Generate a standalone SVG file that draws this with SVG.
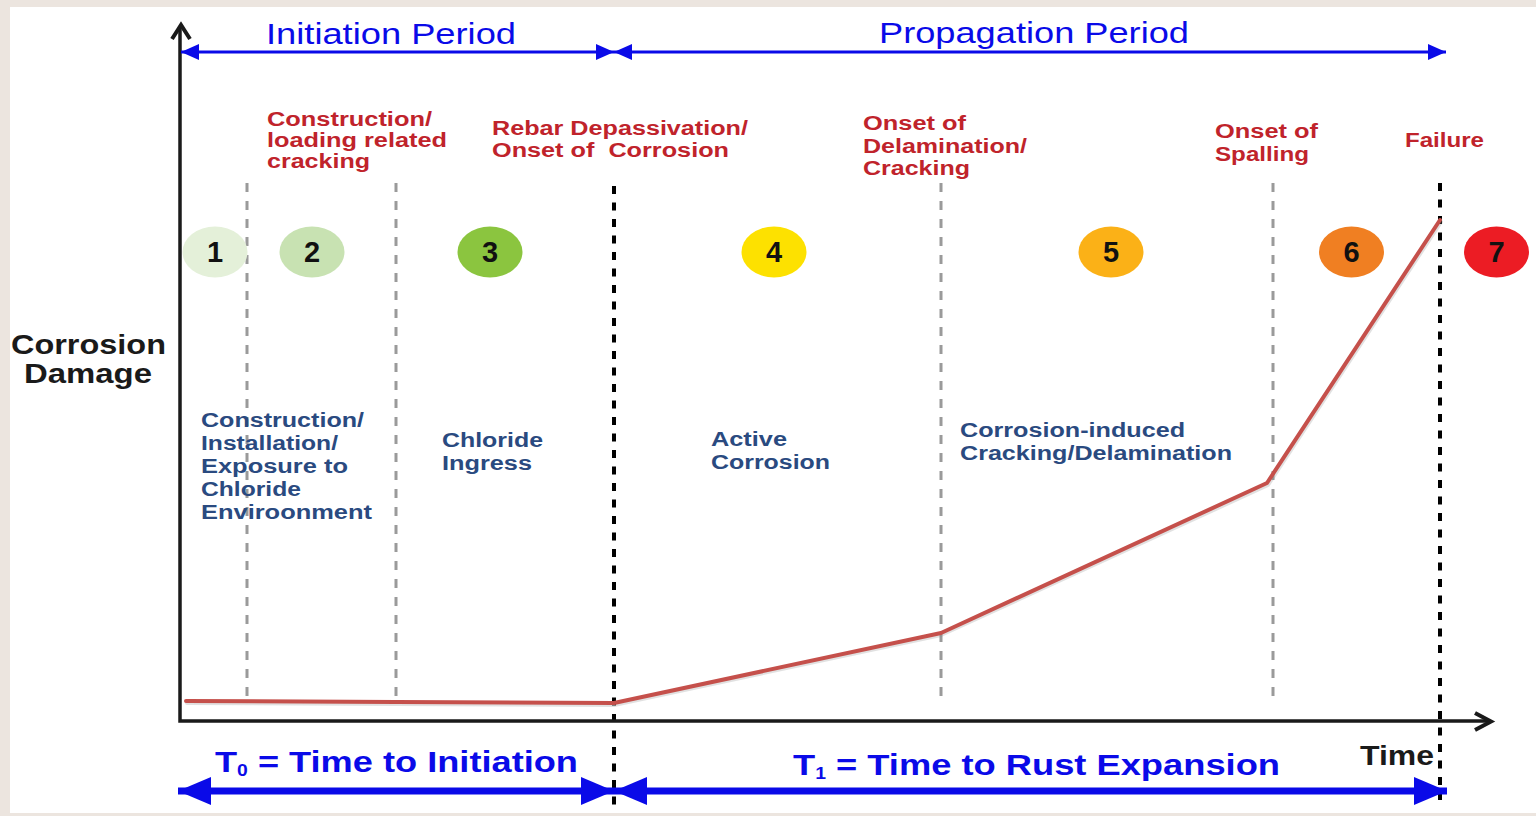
<svg xmlns="http://www.w3.org/2000/svg" width="1536" height="816" viewBox="0 0 1536 816">
  <style>
    .b { font-family: "Liberation Sans", Arial, sans-serif; font-weight: bold; }
    .r { font-family: "Liberation Sans", Arial, sans-serif; font-weight: normal; }
    .period { fill: #0a0ae8; font-size: 29px; }
    .event { fill: #c0232b; font-size: 20px; }
    .phase { fill: #2a4a80; font-size: 20px; }
    .axislbl { fill: #1a1a1a; font-size: 27px; }
    .num { fill: #111; font-size: 29px; text-anchor: middle; }
    .time { fill: #0a0ae8; font-size: 30px; }
    .gray { stroke: #9a9a9a; stroke-width: 3; stroke-dasharray: 9 9; fill: none; }
    .blk { stroke: #000; stroke-width: 4; stroke-dasharray: 8 8.5; fill: none; }
  </style>
  <defs>
    <marker id="tri" viewBox="0 0 18 16" refX="18" refY="8" markerWidth="18" markerHeight="16" markerUnits="userSpaceOnUse" orient="auto-start-reverse">
      <path d="M0,0 L18,8 L0,16 Z" fill="#0a0ae8"/>
    </marker>
    <marker id="bigtri" viewBox="0 0 33 28" refX="33" refY="14" markerWidth="33" markerHeight="28" markerUnits="userSpaceOnUse" orient="auto-start-reverse">
      <path d="M0,0 L33,14 L0,28 Z" fill="#0a0ae8"/>
    </marker>
  </defs>

  <!-- page frame -->
  <rect x="0" y="0" width="1536" height="816" fill="#ece5df"/>
  <rect x="10" y="7" width="1526" height="806" fill="#ffffff"/>

  <!-- phase boundaries -->
  <g id="boundaries">
    <line class="gray" x1="247" y1="183" x2="247" y2="700"/>
    <line class="gray" x1="396" y1="183" x2="396" y2="700"/>
    <line class="gray" x1="941" y1="183" x2="941" y2="700"/>
    <line class="gray" x1="1273" y1="183" x2="1273" y2="700"/>
    <line class="blk" x1="614" y1="186" x2="614" y2="806"/>
    <line class="blk" x1="1440" y1="183" x2="1440" y2="800"/>
  </g>

  <!-- axes -->
  <g id="axes" fill="none" stroke="#1a1a1a" stroke-width="3.5">
    <path d="M180,27 V721 H1489"/>
    <path d="M172,39 L181,25 L190,39" stroke-width="4" stroke-linejoin="miter"/>
    <path d="M1475,713 L1491,721.5 L1475,730" stroke-width="4"/>
  </g>

  <!-- damage curve -->
  <g id="curve" fill="none" stroke-linejoin="round" stroke-linecap="round">
    <polyline points="187,703 396,704 614,705 941,635 1268,485 1441,222" stroke="#888" stroke-opacity="0.25" stroke-width="4"/>
    <polyline points="186,701 396,702 614,703 941,633 1267,483 1440,220" stroke="#c5504b" stroke-width="4"/>
  </g>

  <!-- period arrows -->
  <g id="connectors" stroke="#0a0ae8" fill="none">
    <line x1="181" y1="52" x2="614" y2="52" stroke-width="3" marker-start="url(#tri)" marker-end="url(#tri)"/>
    <line x1="614" y1="52" x2="1446" y2="52" stroke-width="3" marker-start="url(#tri)" marker-end="url(#tri)"/>
    <line x1="178" y1="791" x2="614" y2="791" stroke-width="7" marker-start="url(#bigtri)" marker-end="url(#bigtri)"/>
    <line x1="614" y1="791" x2="1447" y2="791" stroke-width="7" marker-start="url(#bigtri)" marker-end="url(#bigtri)"/>
  </g>

  <!-- period titles -->
  <g id="periods">
    <text class="r period" x="266" y="44" textLength="250" lengthAdjust="spacingAndGlyphs">Initiation Period</text>
    <text class="r period" x="879" y="43" textLength="310" lengthAdjust="spacingAndGlyphs">Propagation Period</text>
  </g>

  <!-- event labels -->
  <g id="event-cracking">
    <text class="b event" x="267" y="126" textLength="165" lengthAdjust="spacingAndGlyphs">Construction/</text>
    <text class="b event" x="267" y="147" textLength="180" lengthAdjust="spacingAndGlyphs">loading related</text>
    <text class="b event" x="267" y="168" textLength="103" lengthAdjust="spacingAndGlyphs">cracking</text>
  </g>
  <g id="event-depassivation">
    <text class="b event" x="492" y="135" textLength="256" lengthAdjust="spacingAndGlyphs">Rebar Depassivation/</text>
    <text class="b event" x="492" y="157" textLength="237" lengthAdjust="spacingAndGlyphs">Onset of&#160; Corrosion</text>
  </g>
  <g id="event-delamination">
    <text class="b event" x="863" y="130" textLength="103" lengthAdjust="spacingAndGlyphs">Onset of</text>
    <text class="b event" x="863" y="153" textLength="164" lengthAdjust="spacingAndGlyphs">Delamination/</text>
    <text class="b event" x="863" y="175" textLength="107" lengthAdjust="spacingAndGlyphs">Cracking</text>
  </g>
  <g id="event-spalling">
    <text class="b event" x="1215" y="138" textLength="103" lengthAdjust="spacingAndGlyphs">Onset of</text>
    <text class="b event" x="1215" y="161" textLength="94" lengthAdjust="spacingAndGlyphs">Spalling</text>
  </g>
  <g id="event-failure">
    <text class="b event" x="1405" y="147" textLength="79" lengthAdjust="spacingAndGlyphs">Failure</text>
  </g>

  <!-- numbered stages -->
  <g id="stage-1">
    <ellipse cx="215" cy="252" rx="32.5" ry="25.5" fill="#e4f0d9"/>
    <text class="b num" x="215" y="262">1</text>
  </g>
  <g id="stage-2">
    <ellipse cx="312" cy="252" rx="32.5" ry="25.5" fill="#c8e2b2"/>
    <text class="b num" x="312" y="262">2</text>
  </g>
  <g id="stage-3">
    <ellipse cx="490" cy="252" rx="32.5" ry="25.5" fill="#8bc53f"/>
    <text class="b num" x="490" y="262">3</text>
  </g>
  <g id="stage-4">
    <ellipse cx="774" cy="252" rx="32.5" ry="25.5" fill="#fde100"/>
    <text class="b num" x="774" y="262">4</text>
  </g>
  <g id="stage-5">
    <ellipse cx="1111" cy="252" rx="32.5" ry="25.5" fill="#fbb117"/>
    <text class="b num" x="1111" y="262">5</text>
  </g>
  <g id="stage-6">
    <ellipse cx="1351.5" cy="252" rx="32.5" ry="25.5" fill="#f07f22"/>
    <text class="b num" x="1351.5" y="262">6</text>
  </g>
  <g id="stage-7">
    <ellipse cx="1496.5" cy="252" rx="32.5" ry="25.5" fill="#ec1c24"/>
    <text class="b num" x="1496.5" y="262">7</text>
  </g>

  <!-- phase descriptions -->
  <g id="phase-exposure">
    <text class="b phase" x="201" y="427" textLength="163" lengthAdjust="spacingAndGlyphs">Construction/</text>
    <text class="b phase" x="201" y="450" textLength="137" lengthAdjust="spacingAndGlyphs">Installation/</text>
    <text class="b phase" x="201" y="473" textLength="147" lengthAdjust="spacingAndGlyphs">Exposure to</text>
    <text class="b phase" x="201" y="496" textLength="100" lengthAdjust="spacingAndGlyphs">Chloride</text>
    <text class="b phase" x="201" y="519" textLength="171" lengthAdjust="spacingAndGlyphs">Enviroonment</text>
  </g>
  <g id="phase-ingress">
    <text class="b phase" x="442" y="447" textLength="101" lengthAdjust="spacingAndGlyphs">Chloride</text>
    <text class="b phase" x="442" y="470" textLength="90" lengthAdjust="spacingAndGlyphs">Ingress</text>
  </g>
  <g id="phase-active">
    <text class="b phase" x="711" y="446" textLength="76" lengthAdjust="spacingAndGlyphs">Active</text>
    <text class="b phase" x="711" y="469" textLength="119" lengthAdjust="spacingAndGlyphs">Corrosion</text>
  </g>
  <g id="phase-cracking">
    <text class="b phase" x="960" y="437" textLength="225" lengthAdjust="spacingAndGlyphs">Corrosion-induced</text>
    <text class="b phase" x="960" y="460" textLength="272" lengthAdjust="spacingAndGlyphs">Cracking/Delamination</text>
  </g>

  <!-- axis labels -->
  <g id="axis-labels">
    <text class="b axislbl" x="11" y="354" textLength="155" lengthAdjust="spacingAndGlyphs">Corrosion</text>
    <text class="b axislbl" x="24" y="383" textLength="128" lengthAdjust="spacingAndGlyphs">Damage</text>
    <text class="b axislbl" x="1360" y="765" font-size="24" textLength="74" lengthAdjust="spacingAndGlyphs">Time</text>
  </g>

  <!-- duration labels -->
  <g id="durations">
    <text class="b time" x="215" y="772" textLength="363" lengthAdjust="spacingAndGlyphs">T<tspan font-size="16" dy="4">0</tspan><tspan dy="-4"> = Time to Initiation</tspan></text>
    <text class="b time" x="793" y="775" textLength="487" lengthAdjust="spacingAndGlyphs">T<tspan font-size="16" dy="4">1</tspan><tspan dy="-4"> = Time to Rust Expansion</tspan></text>
  </g>
</svg>
